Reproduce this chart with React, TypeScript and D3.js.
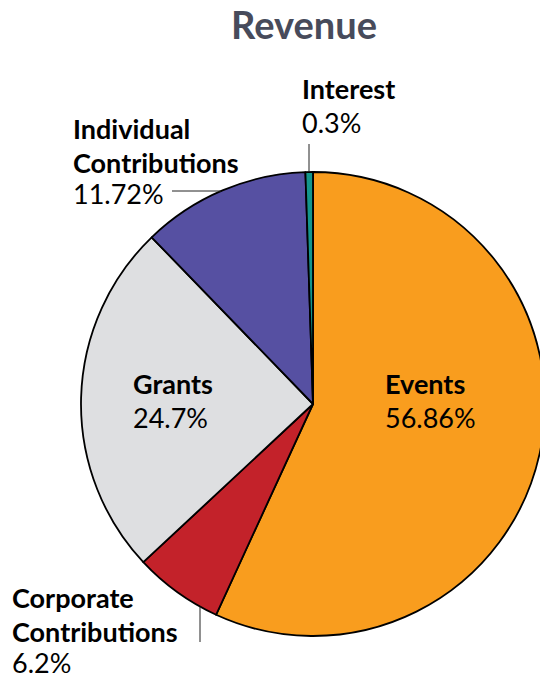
import React from "react";
import * as d3 from "d3";

const categories = ["Events", "Corporate Contributions", "Grants", "Individual Contributions", "Interest"];
// slice shares as drawn in the picture (%)
const values = [56.86, 6.2, 24.7, 11.72, 0.52];
// printed data labels
const percentLabels = ["56.86%", "6.2%", "24.7%", "11.72%", "0.3%"];
const colors = ["#F99D1E", "#C3222A", "#DEDFE1", "#5650A2", "#14968C"];
const title = "Revenue";

const W = 540;
const H = 679;
const cx = 313;
const cy = 404;
const R = 232;

// label text lines and placement (Excel-style manual data labels)
const labelLines: string[][] = [
  ["Events"],
  ["Corporate", "Contributions"],
  ["Grants"],
  ["Individual", "Contributions"],
  ["Interest"],
];
const labelPos = [
  { x: 385, y: 394 },
  { x: 12, y: 608 },
  { x: 133, y: 394 },
  { x: 73, y: 139 },
  { x: 302, y: 99 },
];
const lineGap = 33.5;

// leader lines: orientation, fixed coordinate, far end
const leaders = [
  null,
  { dir: "v", at: 200, end: 642, side: 1 },
  null,
  { dir: "h", at: 191, end: 172, side: -1 },
  { dir: "v", at: 309, end: 144, side: -1 },
];

const FONT = "Lato, 'Open Sans', sans-serif";

export default function App() {
  const pie = d3.pie<number>().sort(null).value((d) => d).startAngle(0).endAngle(2 * Math.PI);
  const arcs = pie(values);
  const arc = d3.arc<d3.PieArcDatum<number>>().innerRadius(0).outerRadius(R);

  return (
    <svg
      width={W}
      height={H}
      viewBox={`0 0 ${W} ${H}`}
      style={{ position: "absolute", left: 0, top: 0, background: "#fff" }}
    >
      <text
        x={304}
        y={39}
        textAnchor="middle"
        fontFamily={FONT}
        fontWeight="bold"
        fontSize={38}
        fill="#474B5B"
      >
        {title}
      </text>
      <g transform={`translate(${cx},${cy})`}>
        {arcs.map((a, i) => (
          <path key={categories[i]} d={arc(a) || ""} fill={colors[i]} stroke="#000" strokeWidth={1.8} strokeLinejoin="round" />
        ))}
      </g>
      {leaders.map((l, i) => {
        if (!l) return null;
        if (l.dir === "v") {
          const edge = cy + l.side * Math.sqrt(R * R - (l.at - cx) ** 2);
          return <line key={i} x1={l.at} x2={l.at} y1={edge} y2={l.end} stroke="#222" strokeWidth={1} />;
        }
        const edge = cx + l.side * Math.sqrt(R * R - (l.at - cy) ** 2);
        return <line key={i} x1={edge} x2={l.end} y1={l.at} y2={l.at} stroke="#222" strokeWidth={1} />;
      })}
      {categories.map((c, i) => {
        const p = labelPos[i];
        const lines = labelLines[i];
        return (
          <text key={c} fontFamily={FONT} fontSize={27} fill="#000">
            {lines.map((t, j) => (
              <tspan key={j} x={p.x} y={p.y + j * lineGap} fontWeight="bold">
                {t}
              </tspan>
            ))}
            <tspan x={p.x} y={p.y + lines.length * lineGap - (lines.length === 1 ? 0 : 2)} fontWeight="normal">
              {percentLabels[i]}
            </tspan>
          </text>
        );
      })}
    </svg>
  );
}
